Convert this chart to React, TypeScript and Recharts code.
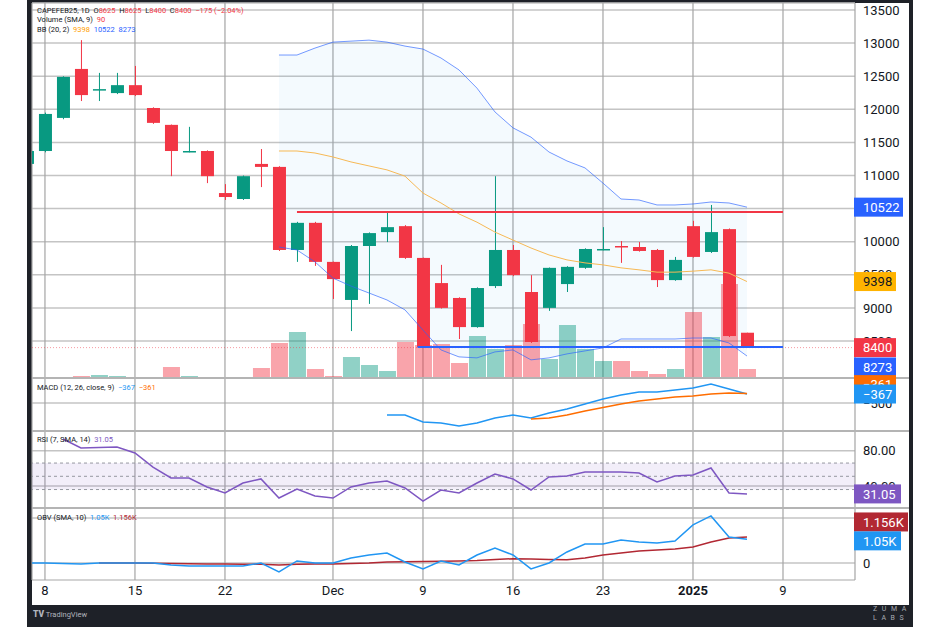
import React from 'react';
import {
  ComposedChart, Bar, Line, Area, XAxis, YAxis, CartesianGrid, ReferenceLine, ReferenceArea,
} from 'recharts';

const FONT = 'Roboto, "Noto Sans", sans-serif';
const TEXT = '#131722';
const UP = '#089981';
const DOWN = '#f23645';
const GRID_H = '#c4c4c4';
const GRID_V = '#a4a4a4';

// trading-day index: 0 = Nov 7 2024 ... 40 = Jan 7 2025
const tickIdx = [1, 6, 11, 17, 22, 27, 32, 37, 42];
const tickLabels = ['8', '15', '22', 'Dec', '9', '16', '23', '2025', '9'];
const X_DOMAIN = [0.28, 46];

const open = [11175, 11370, 11870, 12610, 12290, 12245, 12365, 12020, 11765, 11360, 11370, 10735, 10645, 11175, 11130, 9875, 10285, 9695, 9120, 9935, 10145, 10235, 9755, 9375, 9150, 8710, 9330, 9875, 9240, 9000, 9360, 9605, 9880, 9935, 9920, 9875, 9420, 10235, 9845, 10190, 8625];
const high = [11400, 11950, 12500, 13045, 12550, 12550, 12655, 12030, 11770, 11735, 11380, 10870, 11000, 11400, 11140, 10300, 10300, 9700, 9950, 10140, 10450, 10250, 9760, 9650, 9160, 9310, 10990, 9950, 9495, 9610, 9630, 9900, 10220, 10010, 9995, 9890, 9770, 10315, 10555, 10200, 8625];
const low = [11150, 11350, 11850, 12125, 12125, 12230, 12200, 11780, 10990, 11350, 10885, 10630, 10630, 10825, 9860, 9695, 9635, 9135, 8650, 9060, 9995, 9740, 8400, 8990, 8530, 8700, 9300, 9480, 8470, 8955, 9240, 9590, 9870, 9680, 9850, 9315, 9410, 9760, 9830, 8560, 8400];
const close = [11370, 11930, 12490, 12215, 12305, 12365, 12215, 11795, 11370, 11370, 10990, 10675, 10990, 11130, 9875, 10285, 9695, 9435, 9935, 10130, 10220, 9755, 8410, 9000, 8710, 9300, 9875, 9495, 8485, 9605, 9620, 9890, 9890, 9915, 9860, 9420, 9725, 9770, 10145, 8575, 8400];
const volume = [3, 3, 3, 6, 9, 6, 3, 3, 33, 6, 3, 2, 3, 30, 105, 138, 27, 6, 63, 39, 21, 108, 99, 102, 45, 126, 87, 99, 162, 57, 159, 87, 51, 51, 21, 12, 27, 198, 123, 282, 27];

// Bollinger (20, 2), from index 14
const BB_START = 14;
const bbUpper = [12820, 12820, 12925, 13015, 13030, 13045, 13015, 12955, 12910, 12775, 12595, 12320, 11960, 11720, 11580, 11355, 11220, 11115, 10885, 10645, 10630, 10555, 10555, 10570, 10600, 10585, 10522];
const bbBasis = [11370, 11370, 11340, 11280, 11205, 11145, 11085, 10990, 10735, 10585, 10420, 10295, 10145, 10025, 9905, 9800, 9725, 9680, 9650, 9605, 9575, 9540, 9540, 9555, 9575, 9525, 9398];
const bbLower = [9920, 9875, 9695, 9450, 9330, 9225, 9120, 8970, 8665, 8365, 8260, 8245, 8335, 8365, 8215, 8245, 8305, 8350, 8395, 8530, 8530, 8530, 8530, 8545, 8545, 8470, 8273];

// MACD (12, 26, close, 9)
const MACD_START = 20;
const macdLine = [-678, -678, -781, -796, -840, -796, -722, -678, -722, -648, -589, -515, -441, -382, -337, -337, -308, -278, -219, -293, -367];
const SIG_START = 28;
const signalLine = [-737, -722, -678, -619, -567, -515, -470, -441, -411, -396, -367, -352, -361];

// RSI (7)
const RSI_START = 2;
const rsiLine = [93.2, 83.1, 83.6, 84.2, 77.4, 61.5, 49.1, 49.1, 38.9, 32.1, 43.4, 48.0, 26.4, 36.6, 28.7, 26.4, 38.9, 43.4, 45.7, 37.8, 23.0, 35.5, 32.1, 43.4, 53.6, 48.0, 35.5, 50.2, 51.3, 55.9, 55.9, 55.9, 54.7, 44.6, 51.3, 52.5, 60.4, 32.1, 31.05];

// OBV and its SMA (10)
const obvLine = [0, 0, -20, -45, 0, 0, 0, 0, -90, -135, -135, -135, -135, 0, -400, 90, 0, 0, 220, 355, 445, 45, -265, 90, -90, 355, 665, 355, -265, 0, 490, 845, 845, 1020, 930, 890, 975, 1690, 2090, 1155, 1050];
const OBV_MA_START = 4;
const obvMa = [0, 0, 0, -10, -20, -30, -40, -50, -60, -60, -90, -60, -50, -45, -20, 0, 45, 60, 70, 80, 90, 110, 150, 190, 180, 160, 140, 220, 355, 445, 535, 575, 620, 710, 930, 1110, 1156];

const priceTicks = [8500, 9000, 9500, 10000, 10500, 11000, 11500, 12000, 12500, 13000, 13500];

const PRICE_DOMAIN = [7941, 13606];
const MACD_DOMAIN = [-914, -130];
const RSI_DOMAIN = [15.1, 102.3];
const OBV_DOMAIN = [-755, 2442];

const from = (arr: number[], start: number, i: number) =>
  i >= start && i - start < arr.length ? arr[i - start] : null;

const rows = open.map((o, i) => ({
  i,
  o,
  h: high[i],
  l: low[i],
  c: close[i],
  range: [low[i], high[i]],
  vol: volume[i],
  bbU: from(bbUpper, BB_START, i),
  bbM: from(bbBasis, BB_START, i),
  bbL: from(bbLower, BB_START, i),
  bbR: i >= BB_START ? [bbLower[i - BB_START], bbUpper[i - BB_START]] : null,
  macd: from(macdLine, MACD_START, i),
  sig: from(signalLine, SIG_START, i),
  rsi: from(rsiLine, RSI_START, i),
  obv: obvLine[i],
  obvMa: from(obvMa, OBV_MA_START, i),
}));

const renderCandle = (props: any) => {
  const { x, y, width, height, payload } = props;
  if (!payload || height == null || isNaN(y)) return <g />;
  const top = Math.min(y, y + height);
  const bot = Math.max(y, y + height);
  const { o, h, l, c } = payload;
  const k = h > l ? (bot - top) / (h - l) : 0;
  const py = (p: number) => top + (h - p) * k;
  const col = c >= o ? UP : DOWN;
  const cx = x + width / 2;
  const bTop = py(Math.max(o, c));
  const bH = Math.max(1.5, py(Math.min(o, c)) - bTop);
  return (
    <g>
      <line x1={cx} x2={cx} y1={top} y2={bot} stroke={col} strokeWidth={1} />
      <rect x={x} y={bTop} width={width} height={bH} fill={col} />
    </g>
  );
};

const renderVol = (props: any) => {
  const { x, y, width, height, payload } = props;
  if (!payload || !height) return <g />;
  const col = payload.c >= payload.o ? UP : DOWN;
  return <rect x={x} y={y} width={width} height={height} fill={col} fillOpacity={0.45} />;
};

function PriceTag(props: any) {
  const { viewBox, text, bg, fg = '#ffffff', w = 42, dy = 0 } = props;
  if (!viewBox) return null;
  const x = viewBox.x + viewBox.width - 1;
  const cy = viewBox.y + dy;
  return (
    <g>
      <rect x={x} y={cy - 9.5} width={w} height={19} fill={bg} />
      <text x={x + 9} y={cy} dy="0.36em" fill={fg} fontSize={13} fontFamily={FONT}>{text}</text>
    </g>
  );
}

const DateTick = (props: any) => {
  const { x, y, payload } = props;
  const k = tickIdx.indexOf(payload.value);
  const label = k >= 0 ? tickLabels[k] : '';
  return (
    <text x={x} y={y} dy="0.71em" textAnchor="middle" fill={TEXT} fontSize={13} fontFamily={FONT}
      fontWeight={label === '2025' ? 700 : 400}>
      {label}
    </text>
  );
};

const axisTick = { fill: TEXT, fontSize: 13, fontFamily: FONT };
const CHART_W = 877;
const AXIS_W = 54;
const noMargin = { top: 0, right: 0, bottom: 0, left: 0 };

type Tag = { value: number; text: string; bg: string; fg?: string; w?: number; dy?: number };

// price-scale tags drawn in their own layer so they sit above the axis text
function TagLayer({ top, height, domain, tags }: { top: number; height: number; domain: number[]; tags: Tag[] }) {
  return (
    <div style={{ position: 'absolute', left: 32, top, pointerEvents: 'none' }}>
      <ComposedChart width={CHART_W} height={height} data={rows} margin={noMargin}>
        <XAxis type="number" dataKey="i" domain={X_DOMAIN} allowDataOverflow hide />
        <YAxis orientation="right" width={AXIS_W} domain={domain} allowDataOverflow axisLine={false} tickLine={false} tick={false} />
        {tags.map((t) => (
          <ReferenceLine key={t.text} y={t.value} stroke="none"
            label={<PriceTag text={t.text} bg={t.bg} fg={t.fg} w={t.w} dy={t.dy} />} />
        ))}
      </ComposedChart>
    </div>
  );
}

const Legend = ({ top, parts }: { top: number; parts: [string, string][] }) => (
  <div style={{ position: 'absolute', left: 37, top, fontSize: 7.5, lineHeight: '9px', fontFamily: FONT, color: TEXT, whiteSpace: 'pre' }}>
    {parts.map(([t, c], k) => <span key={k} style={{ color: c }}>{t}</span>)}
  </div>
);

const Sep = ({ top }: { top: number }) => (
  <div style={{ position: 'absolute', left: 32, top: top - 0.75, width: 877, height: 1.5, background: '#b4b4b4' }} />
);

export default function App() {
  return (
    <div style={{ position: 'fixed', left: 0, top: 0, width: 940, height: 627, background: '#ffffff', overflow: 'hidden' }}>
      <style>{'.recharts-surface{overflow:visible}'}</style>
      <div style={{ position: 'absolute', left: 27, top: 0, width: 886, height: 627, background: '#1e2128' }} />
      <div style={{ position: 'absolute', left: 32, top: 3, width: 877, height: 602, background: '#ffffff' }} />

      {/* price + volume pane */}
      <div style={{ position: 'absolute', left: 32, top: 3 }}>
        <ComposedChart width={CHART_W} height={375} data={rows} margin={noMargin}>
          <XAxis xAxisId="x" type="number" dataKey="i" domain={X_DOMAIN} ticks={tickIdx} allowDataOverflow hide />
          <XAxis xAxisId="v" type="number" dataKey="i" domain={X_DOMAIN} allowDataOverflow hide />
          <YAxis yAxisId="p" orientation="right" width={AXIS_W} domain={PRICE_DOMAIN} ticks={priceTicks}
            interval={0} allowDataOverflow axisLine={false} tickLine={false} tick={axisTick} />
          <YAxis yAxisId="v" hide domain={[0, 1125]} allowDataOverflow />
          <CartesianGrid xAxisId="x" yAxisId="p" vertical={false} stroke={GRID_H} strokeWidth={1.5} />
          <CartesianGrid xAxisId="x" yAxisId="p" horizontal={false} stroke={GRID_V} strokeWidth={1.2} />
          <Area xAxisId="x" yAxisId="p" dataKey="bbR" stroke="none" fill="#2196f3" fillOpacity={0.05}
            isAnimationActive={false} activeDot={false} />
          <Bar xAxisId="v" yAxisId="v" dataKey="vol" barSize={17} shape={renderVol} isAnimationActive={false} />
          <Line xAxisId="x" yAxisId="p" dataKey="bbU" stroke="#2962ff" strokeOpacity={0.65} strokeWidth={1} dot={false} isAnimationActive={false} />
          <Line xAxisId="x" yAxisId="p" dataKey="bbL" stroke="#2962ff" strokeOpacity={0.65} strokeWidth={1} dot={false} isAnimationActive={false} />
          <Line xAxisId="x" yAxisId="p" dataKey="bbM" stroke="#f7b955" strokeWidth={1} dot={false} isAnimationActive={false} />
          <ReferenceLine xAxisId="x" yAxisId="p" y={8400} stroke={DOWN} strokeOpacity={0.5} strokeDasharray="1 2" />
          <Bar xAxisId="x" yAxisId="p" dataKey="range" barSize={13} shape={renderCandle} isAnimationActive={false} />
          <ReferenceLine xAxisId="x" yAxisId="p" segment={[{ x: 15, y: 10450 }, { x: 42, y: 10450 }]} stroke={DOWN} strokeWidth={2} />
          <ReferenceLine xAxisId="x" yAxisId="p" segment={[{ x: 21.7, y: 8410 }, { x: 42, y: 8410 }]} stroke="#2962ff" strokeWidth={2} />
        </ComposedChart>
      </div>

      {/* MACD pane */}
      <div style={{ position: 'absolute', left: 32, top: 378 }}>
        <ComposedChart width={CHART_W} height={53} data={rows} margin={noMargin}>
          <XAxis type="number" dataKey="i" domain={X_DOMAIN} ticks={tickIdx} allowDataOverflow hide />
          <YAxis orientation="right" width={AXIS_W} domain={MACD_DOMAIN} ticks={[-500]} allowDataOverflow
            axisLine={false} tickLine={false} tick={axisTick} tickFormatter={(v: number) => String(v).replace('-', '\u2212')} />
          <CartesianGrid vertical={false} stroke={GRID_H} strokeWidth={1.5} />
          <CartesianGrid horizontal={false} stroke={GRID_V} strokeWidth={1.2} />
          <Line dataKey="macd" stroke="#2196f3" strokeWidth={1.5} dot={false} isAnimationActive={false} />
          <Line dataKey="sig" stroke="#ff6d00" strokeWidth={1.5} dot={false} isAnimationActive={false} />
        </ComposedChart>
      </div>

      {/* RSI pane */}
      <div style={{ position: 'absolute', left: 32, top: 431 }}>
        <ComposedChart width={CHART_W} height={77} data={rows} margin={noMargin}>
          <XAxis type="number" dataKey="i" domain={X_DOMAIN} ticks={tickIdx} allowDataOverflow hide />
          <YAxis orientation="right" width={AXIS_W} domain={RSI_DOMAIN} ticks={[40, 80]} allowDataOverflow
            axisLine={false} tickLine={false} tick={axisTick} tickFormatter={(v: number) => v.toFixed(2)} />
          <CartesianGrid vertical={false} stroke={GRID_H} strokeWidth={1.5} />
          <CartesianGrid horizontal={false} stroke={GRID_V} strokeWidth={1.2} />
          <ReferenceArea y1={36} y2={66} fill="#7e57c2" fillOpacity={0.1} stroke="none" />
          <ReferenceLine y={66} stroke="#9598a1" strokeDasharray="3 3" />
          <ReferenceLine y={51} stroke="#9598a1" strokeDasharray="3 3" />
          <ReferenceLine y={36} stroke="#9598a1" strokeDasharray="3 3" />
          <Line dataKey="rsi" stroke="#7e57c2" strokeWidth={1.5} dot={false} isAnimationActive={false} />
        </ComposedChart>
      </div>

      {/* OBV pane + date axis */}
      <div style={{ position: 'absolute', left: 32, top: 508 }}>
        <ComposedChart width={CHART_W} height={97} data={rows} margin={noMargin}>
          <XAxis type="number" dataKey="i" domain={X_DOMAIN} ticks={tickIdx} interval={0} allowDataOverflow
            height={25} axisLine={false} tickLine={false} tickSize={0} tickMargin={6} tick={DateTick} />
          <YAxis orientation="right" width={AXIS_W} domain={OBV_DOMAIN} ticks={[0, 2000]} allowDataOverflow
            axisLine={false} tickLine={false} tick={axisTick} tickFormatter={(v: number) => (v === 0 ? '0' : `${v / 1000}K`)} />
          <CartesianGrid vertical={false} stroke={GRID_H} strokeWidth={1.5} />
          <CartesianGrid horizontal={false} stroke={GRID_V} strokeWidth={1.2} />
          <Line dataKey="obvMa" stroke="#b22833" strokeWidth={1.5} dot={false} isAnimationActive={false} />
          <Line dataKey="obv" stroke="#2196f3" strokeWidth={1.5} dot={false} isAnimationActive={false} />
        </ComposedChart>
      </div>

      <Sep top={378} />
      <Sep top={431} />
      <Sep top={508} />

      <TagLayer top={3} height={375} domain={PRICE_DOMAIN} tags={[
        { value: 10522, text: '10522', bg: '#2962ff', w: 49 },
        { value: 9398, text: '9398', bg: '#ffb300', fg: TEXT },
        { value: 8400, text: '8400', bg: DOWN },
        { value: 8273, text: '8273', bg: '#2962ff', dy: 11 },
      ]} />
      <TagLayer top={378} height={53} domain={MACD_DOMAIN} tags={[
        { value: -361, text: '\u2212361', bg: '#ff6d00', dy: -9 },
        { value: -367, text: '\u2212367', bg: '#2196f3' },
      ]} />
      <TagLayer top={431} height={77} domain={RSI_DOMAIN} tags={[
        { value: 31.05, text: '31.05', bg: '#7e57c2', w: 47 },
      ]} />
      <TagLayer top={508} height={72} domain={OBV_DOMAIN} tags={[
        { value: 1156, text: '1.156K', bg: '#b22833', w: 54, dy: -15 },
        { value: 1050, text: '1.05K', bg: '#2196f3', w: 47, dy: 1.5 },
      ]} />

      <Legend top={6.2} parts={[['CAPEFEB25, 1D  O', TEXT], ['8625', DOWN], ['  H', TEXT], ['8625', DOWN], ['  L', TEXT], ['8400', DOWN], ['  C', TEXT], ['8400', DOWN], ['  \u2212175 (\u22122.04%)', DOWN]]} />
      <Legend top={14.8} parts={[['Volume (SMA, 9)  ', TEXT], ['90', DOWN]]} />
      <Legend top={24.8} parts={[['BB (20, 2)  ', TEXT], ['9398', '#ffa000'], ['  10522', '#2962ff'], ['  8273', '#2962ff']]} />
      <Legend top={382.5} parts={[['MACD (12, 26, close, 9)  ', TEXT], ['\u2212367', '#2196f3'], ['  \u2212361', '#ff6d00']]} />
      <Legend top={434.5} parts={[['RSI (7, SMA, 14)  ', TEXT], ['31.05', '#7e57c2']]} />
      <Legend top={512.5} parts={[['OBV (SMA, 10)  ', TEXT], ['1.05K', '#2196f3'], ['  1.156K', '#b22833']]} />

      <div style={{ position: 'absolute', left: 33, top: 609, fontFamily: FONT, color: '#b2b5be', fontSize: 7.5, lineHeight: '10px', whiteSpace: 'pre' }}>
        <span style={{ fontWeight: 900, fontSize: 8.5 }}>TV</span> TradingView
      </div>
      <div style={{ position: 'absolute', left: 873, top: 605, fontFamily: FONT, color: '#a8abb3', fontSize: 7, lineHeight: '8.5px', letterSpacing: 4.6 }}>
        <div>ZUMA</div>
        <div>LABS</div>
      </div>
    </div>
  );
}
